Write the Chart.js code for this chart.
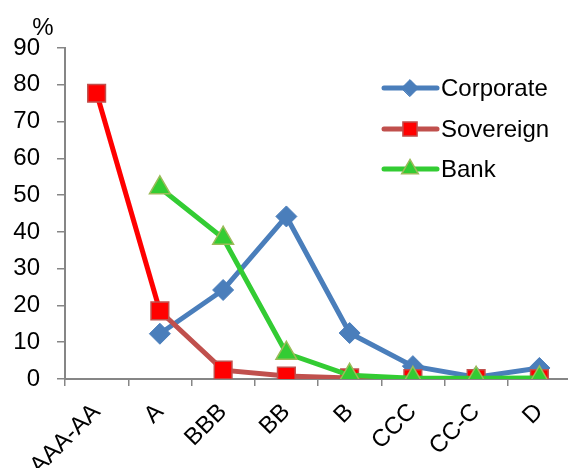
<!DOCTYPE html>
<html>
<head>
<meta charset="utf-8">
<script src="https://cdn.jsdelivr.net/npm/chart.js@4.4.1/dist/chart.umd.min.js"></script>
<style>
  html, body { margin: 0; padding: 0; background: #fff; overflow: hidden; }
  #wrap { position: relative; width: 585px; height: 468px; }
</style>
</head>
<body>
<div id="wrap"><canvas id="chart"></canvas></div>
<script>
// ─── Rating categories and default rates per issuer type ───
const ratings = ['AAA-AA', 'A', 'BBB', 'BB', 'B', 'CCC', 'CC-C', 'D'];
const corporate = [null, 12.3, 24.2, 44.2, 12.5, 3.5, 0.5, 3.0];
const sovereign = [77.7, 18.5, 2.4, 0.8, 0.3, 0.1, 0.1, 0.1];
const bank = [null, 52.0, 38.3, 7.0, 1.0, 0.2, 0.2, 0.3];
const yTicks = [0, 10, 20, 30, 40, 50, 60, 70, 80, 90];

const FONT = 'Liberation Sans, Arial, sans-serif';
const AXIS = '#868686';
const colors = {
  corp: '#4A7EBB',
  sovLine: '#C0504D',
  sovFirst: '#FF0000',
  sovFill: '#FF0000',
  bank: '#33CC33',
  bankEdge: '#9BBB59',
};

// legend drawn in the empty upper-right corner of the plot
const cornerLegend = {
  id: 'cornerLegend',
  afterDatasetsDraw(chart) {
    const ctx = chart.ctx;
    const rows = [
      { ds: chart.data.datasets[0], y: 88 },
      { ds: chart.data.datasets[1], y: 129 },
      { ds: chart.data.datasets[2], y: 169 },
    ];
    ctx.save();
    rows.forEach(({ ds, y }) => {
      ctx.strokeStyle = ds.legendLine || ds.borderColor;
      ctx.lineWidth = 5;
      ctx.lineCap = 'round';
      ctx.beginPath();
      ctx.moveTo(384, y);
      ctx.lineTo(437, y);
      ctx.stroke();
      ctx.fillStyle = ds.pointBackgroundColor;
      ctx.strokeStyle = ds.pointBorderColor;
      ctx.lineWidth = ds.pointBorderWidth;
      Chart.helpers.drawPoint(ctx, { pointStyle: ds.pointStyle, radius: ds.pointRadius * 0.8, borderWidth: ds.pointBorderWidth }, 410, y);
      ctx.fillStyle = '#000';
      ctx.font = `24px ${FONT}`;
      ctx.textAlign = 'left';
      ctx.textBaseline = 'middle';
      ctx.fillText(ds.label, 441, y + 1);
    });
    // unit label above the value axis
    ctx.font = `24px ${FONT}`;
    ctx.textAlign = 'center';
    ctx.textBaseline = 'middle';
    ctx.fillStyle = '#000';
    ctx.fillText('%', 43, 28);
    ctx.restore();
  }
};

new Chart(document.getElementById('chart'), {
  type: 'line',
  data: {
    labels: ratings,
    datasets: [
      {
        label: 'Corporate', data: corporate, order: 2,
        borderColor: colors.corp, borderWidth: 5,
        pointStyle: 'rectRot', pointRadius: 10.5, pointHoverRadius: 10.5,
        pointBackgroundColor: colors.corp, pointBorderColor: colors.corp, pointBorderWidth: 1,
      },
      {
        label: 'Sovereign', data: sovereign, order: 1,
        borderColor: colors.sovLine, legendLine: colors.sovLine, borderWidth: 5,
        segment: { borderColor: c => c.p0DataIndex === 0 ? colors.sovFirst : colors.sovLine },
        pointStyle: 'rect', pointRadius: 12.5, pointHoverRadius: 12.5,
        pointBackgroundColor: colors.sovFill, pointBorderColor: colors.sovLine, pointBorderWidth: 1.5,
      },
      {
        label: 'Bank', data: bank, order: 0,
        borderColor: colors.bank, borderWidth: 5,
        pointStyle: 'triangle', pointRadius: 12, pointHoverRadius: 12,
        pointBackgroundColor: colors.bank, pointBorderColor: colors.bankEdge, pointBorderWidth: 1.5,
      },
    ]
  },
  options: {
    responsive: true,
    maintainAspectRatio: false,
    animation: false,
    spanGaps: false,
    layout: { padding: { top: 48, right: 1, left: 0, bottom: 0 } },
    plugins: { legend: { display: false }, tooltip: { enabled: false } },
    scales: {
      x: {
        offset: true,
        grid: { display: true, drawOnChartArea: false, drawTicks: true, tickLength: 7, color: AXIS, lineWidth: 1.5, offset: true },
        border: { color: AXIS, width: 2 },
        ticks: { color: '#000', font: { family: FONT, size: 24 }, maxRotation: 45, minRotation: 45, padding: 12, autoSkip: false },
        afterFit: s => { s.height = 89; },
      },
      y: {
        min: 0, max: 90,
        afterBuildTicks: s => { s.ticks = yTicks.map(v => ({ value: v })); },
        grid: { display: true, drawOnChartArea: false, drawTicks: true, tickLength: 8, color: AXIS, lineWidth: 1.5 },
        border: { color: AXIS, width: 2 },
        ticks: { color: '#000', font: { family: FONT, size: 24 }, padding: 17 },
        afterFit: s => { s.width = 65; },
      }
    }
  },
  plugins: [cornerLegend]
});
</script>
</body>
</html>
